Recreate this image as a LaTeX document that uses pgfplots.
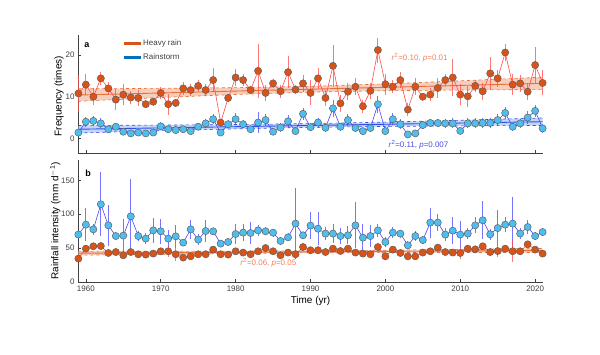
\documentclass[border=0pt]{standalone}
\usepackage{pgfplots}
\usepackage{pgfplotstable}
\pgfplotsset{compat=1.18}
\usepackage{fontspec}
\setmainfont{Liberation Sans}

\definecolor{hr}{HTML}{D95319}
\definecolor{rs}{HTML}{0072BD}
\definecolor{rsl}{HTML}{4DBEEE}
\definecolor{hrline}{HTML}{FF4B4B}
\definecolor{rsline}{HTML}{4747FF}
\definecolor{hrreg}{HTML}{E8703A}
\definecolor{hrband}{HTML}{F4B8A0}
\definecolor{rsreg}{HTML}{2E4FE6}
\definecolor{rsband}{HTML}{A9C2F7}
\definecolor{axgray}{HTML}{404040}
\definecolor{hrtext}{HTML}{EE8060}
\definecolor{rstext}{HTML}{4B4BE6}
\definecolor{mkedge}{HTML}{5A5A5A}

\pgfplotstableread{
year hr hre rs rse
1959 10.8 4.4 1.4 0.6
1960 12.9 2.5 4.0 1.2
1961 10.0 2.0 4.2 1.2
1962 14.4 1.5 3.6 1.2
1963 12.0 1.5 2.2 0.8
1964 9.3 2.5 2.8 0.8
1965 10.5 2.5 1.6 0.6
1966 9.8 1.5 1.2 0.5
1967 9.7 2.0 1.4 0.5
1968 8.2 1.0 1.2 0.5
1969 8.8 1.0 1.4 0.5
1970 10.9 1.5 2.9 1.0
1971 8.2 2.5 2.2 0.7
1972 8.5 1.0 2.0 0.6
1973 12.0 1.5 2.2 0.7
1974 11.6 1.5 1.75 0.6
1975 12.6 1.5 2.8 0.8
1976 11.6 1.5 3.6 1.0
1977 14.0 2.8 4.6 1.2
1978 3.8 0.5 1.4 0.6
1979 9.7 1.0 3.4 1.0
1980 14.6 2.0 4.6 1.5
1981 14.0 1.5 3.4 1.0
1982 11.6 1.0 2.2 0.8
1983 16.2 6.5 3.8 2.5
1984 10.9 2.0 4.4 1.5
1985 13.2 1.0 1.6 0.6
1986 11.3 1.5 2.6 1.0
1987 15.9 3.8 4.1 1.5
1988 11.7 1.0 1.75 0.7
1989 13.2 2.0 5.9 1.5
1990 10.9 3.0 2.7 1.0
1991 14.4 2.5 3.8 1.2
1992 9.7 2.0 2.55 1.0
1993 17.4 5.0 7.2 2.0
1994 8.4 2.0 2.8 1.0
1995 11.2 2.0 4.4 1.5
1996 12.4 2.0 2.5 1.0
1997 7.7 1.5 1.75 0.7
1998 11.4 2.0 2.5 1.0
1999 21.2 3.0 8.2 2.0
2000 13.0 2.5 1.75 0.8
2001 12.4 1.5 4.6 1.5
2002 14.0 2.0 3.4 1.2
2003 6.9 1.5 0.95 0.5
2004 12.4 2.0 1.2 0.5
2005 10.0 1.0 3.2 1.0
2006 10.5 1.5 3.7 1.0
2007 12.1 2.5 3.7 1.0
2008 14.0 1.5 3.6 1.0
2009 14.6 4.5 3.6 1.2
2010 10.5 2.5 1.8 0.8
2011 10.1 2.5 3.6 1.2
2012 12.6 1.5 3.6 1.2
2013 11.3 2.0 3.7 1.2
2014 15.6 4.0 3.7 1.2
2015 14.4 2.0 4.4 1.5
2016 20.6 2.0 6.1 1.5
2017 12.9 2.5 2.8 1.0
2018 13.2 2.0 3.6 1.0
2019 11.2 2.0 5.0 1.5
2020 17.6 4.4 6.6 1.5
2021 13.3 3.0 2.4 1.0
}\freqtable

\pgfplotstableread{
year ri rie hi hie
1959 70.0 5 34.5 5
1960 84.6 24 49.2 4
1961 77.7 8 52.7 4
1962 114.6 47 53.1 4
1963 83.6 30 42.8 3
1964 67.8 5 44.2 3
1965 68.5 25 39.4 4
1966 96.9 55 44.2 3
1967 67.8 8 40.9 3
1968 64.0 8 40.4 3
1969 76.2 18 41.9 3
1970 74.8 18 45.3 4
1971 64.0 12 45.3 8
1972 67.4 17 40.9 10
1973 58.1 5 36.0 3
1974 77.7 14 37.9 3
1975 62.5 8 40.9 3
1976 75.2 16 40.9 3
1977 74.8 5 47.8 4
1978 56.6 5 40.9 3
1979 59.0 5 40.4 3
1980 70.8 15 45.3 4
1981 72.8 13 43.4 3
1982 72.3 16 40.9 3
1983 76.2 8 45.3 4
1984 74.8 6 50.1 5
1985 72.8 6 45.3 3
1986 60.5 5 39.4 3
1987 65.9 6 43.4 3
1988 86.2 52 40.9 3
1989 68.9 5 51.6 5
1990 83.2 20 46.8 4
1991 78.7 24 46.8 6
1992 71.4 10 44.2 3
1993 71.4 14 49.2 4
1994 67.8 12 45.7 3
1995 68.9 13 49.2 4
1996 83.6 34 43.4 3
1997 65.4 20 41.9 3
1998 67.8 16 40.9 3
1999 76.2 10 51.6 4
2000 59.0 8 37.9 3
2001 72.8 8 47.8 4
2002 71.4 6 42.8 3
2003 54.1 6 37.9 3
2004 67.8 8 37.9 3
2005 61.9 6 43.4 3
2006 87.6 22 45.3 3
2007 87.6 12 50.7 5
2008 69.9 10 44.2 3
2009 75.7 20 43.4 3
2010 69.9 20 42.8 9
2011 71.4 8 49.2 5
2012 83.6 12 48.2 4
2013 91.0 28 52.7 5
2014 70.4 8 44.2 3
2015 79.6 26 45.7 9
2016 84.6 11 49.2 4
2017 86.1 39 45.3 16
2018 71.4 8 45.3 3
2019 81.1 10 55.6 4
2020 67.8 6 47.8 4
2021 73.7 6 41.9 3
}\inttable

\pgfplotsset{
  panel/.style={
    scale only axis, width=465bp,
    xmin=1958.95, xmax=2021.05,
    axis x line*=bottom, axis y line*=left,
    axis line style={axgray, line width=0.7pt, -},
    tick align=inside, major tick length=3bp,
    tick style={axgray, line width=0.6pt},
    xtick={1960,1970,...,2020},
    ticklabel style={font=\fontsize{8}{9}\selectfont, text=axgray},
    /pgf/number format/assume math mode=true,
    /pgf/number format/1000 sep={},
    label style={font=\fontsize{8}{9}\selectfont, text=axgray},
    clip=false,
  },
  hrmark/.style={mark=*, mark size=3.6bp, mark options={fill=hr, draw=mkedge, line width=0.45pt, solid}},
  rsmark/.style={mark=*, mark size=3.6bp, mark options={fill=rsl, draw=mkedge, line width=0.45pt, solid}},
}

\begin{document}
\begin{tikzpicture}
\useasboundingbox (0,0) rectangle (600bp,355bp);

% ---------- Panel a ----------
\begin{axis}[panel, at={(78bp,202bp)}, anchor=south west, height=118bp,
  ymin=-3.5, ymax=24.8, ytick={0,10,20}, xticklabels={},
  ylabel={Frequency (times)},
  every axis y label/.style={at={(axis description cs:-0.041,0.483)}, rotate=90, anchor=center},
  legend style={at={(rel axis cs:0.095,0.972)}, anchor=north west, draw=none, fill=none,
    font=\fontsize{8}{9}\selectfont, inner sep=0pt, row sep=4.5bp,
    nodes={inner sep=1.2bp, text=axgray}},
  legend cell align=left,
]
\addlegendimage{hr, line width=2.6bp}
\addlegendentry{Heavy rain}
\addlegendimage{rs, line width=2.6bp}
\addlegendentry{Rainstorm}
% bands
\addplot[forget plot, draw=none, fill=rsband, fill opacity=0.7] coordinates {
(1959,3.1) (1970,3.19) (1980,3.33) (1990,3.55) (2000,3.91) (2010,4.35) (2021,4.9)
(2021,3.1) (2010,3.01) (2000,2.87) (1990,2.65) (1980,2.29) (1970,1.85) (1959,1.3)} -- cycle;
\addplot[forget plot, draw=none, fill=hrband, fill opacity=0.7] coordinates {
(1959,11.9) (1970,12.0) (1980,12.17) (1990,12.5) (2000,13.07) (2010,13.8) (2021,14.7)
(2021,11.7) (2010,11.6) (2000,11.43) (1990,11.1) (1980,10.53) (1970,9.8) (1959,8.9)} -- cycle;
\addplot[forget plot, rsreg, dashed, line width=0.6pt] coordinates {(1959,3.1) (1970,3.19) (1980,3.33) (1990,3.55) (2000,3.91) (2010,4.35) (2021,4.9)};
\addplot[forget plot, rsreg, dashed, line width=0.6pt] coordinates {(1959,1.3) (1970,1.85) (1980,2.29) (1990,2.65) (2000,2.87) (2010,3.01) (2021,3.1)};
\addplot[forget plot, hrreg, dashed, line width=0.6pt] coordinates {(1959,11.9) (1970,12.0) (1980,12.17) (1990,12.5) (2000,13.07) (2010,13.8) (2021,14.7)};
\addplot[forget plot, hrreg, dashed, line width=0.6pt] coordinates {(1959,8.9) (1970,9.8) (1980,10.53) (1990,11.1) (2000,11.43) (2010,11.6) (2021,11.7)};
\addplot[forget plot, rsreg, line width=0.9pt] coordinates {(1959,2.2) (2021,4.0)};
\addplot[forget plot, hrreg, line width=0.9pt] coordinates {(1959,10.4) (2021,13.2)};
% error bars
\addplot[forget plot, draw=none, mark=none,
  error bars/.cd, y dir=both, y explicit, error mark=none,
  error bar style={draw=hrline, draw opacity=0.75, line width=0.9bp}]
  table[x=year, y=hr, y error=hre] {\freqtable};
\addplot[forget plot, draw=none, mark=none,
  error bars/.cd, y dir=both, y explicit, error mark=none,
  error bar style={draw=rsline, draw opacity=0.75, line width=0.9bp}]
  table[x=year, y=rs, y error=rse] {\freqtable};
% series
\addplot[forget plot, hrline, line width=0.6pt, hrmark] table[x=year, y=hr] {\freqtable};
\addplot[forget plot, rsline, line width=0.6pt, rsmark] table[x=year, y=rs] {\freqtable};
% annotations
\node[anchor=center, font=\bfseries\fontsize{9}{10}\selectfont, text=black] at (rel axis cs:0.019,0.911) {a};
\node[anchor=west, text=hrtext, font=\fontsize{8}{9}\selectfont, inner sep=0pt] at (axis cs:2000.8,19.3) {\textit{r}\textsuperscript{2}=0.10, \textit{p}=0.01};
\node[anchor=west, text=rstext, font=\fontsize{8}{9}\selectfont, inner sep=0pt] at (axis cs:2000.4,-1.5) {\textit{r}\textsuperscript{2}=0.11, \textit{p}=0.007};
\end{axis}

% ---------- Panel b ----------
\begin{axis}[panel, at={(78bp,73bp)}, anchor=south west, height=122bp,
  ymin=0, ymax=180, ytick={0,50,100,150},
  ylabel={Rainfall intensity (mm d\textsuperscript{$-$1})},
  every axis y label/.style={at={(axis description cs:-0.049,0.5)}, rotate=90, anchor=center},
  xlabel={Time (yr)},
  every axis x label/.style={at={(axis description cs:0.5,-0.155)}, anchor=center},
]
\addplot[draw=none, fill=hrband, fill opacity=0.7] coordinates {
(1959,45.5) (1970,45.45) (1980,45.59) (1990,46.0) (2000,46.87) (2010,48.05) (2021,49.5)
(2021,43.5) (2010,43.55) (2000,43.43) (1990,43.0) (1980,42.15) (1970,40.95) (1959,39.5)} -- cycle;
\addplot[hrreg, dashed, line width=0.6pt] coordinates {(1959,45.5) (1970,45.45) (1980,45.59) (1990,46.0) (2000,46.87) (2010,48.05) (2021,49.5)};
\addplot[hrreg, dashed, line width=0.6pt] coordinates {(1959,39.5) (1970,40.95) (1980,42.15) (1990,43.0) (2000,43.43) (2010,43.55) (2021,43.5)};
\addplot[hrreg, line width=0.9pt] coordinates {(1959,42.5) (2021,46.5)};
\addplot[draw=none, mark=none,
  error bars/.cd, y dir=both, y explicit, error mark=none,
  error bar style={draw=rsline, draw opacity=0.75, line width=0.9bp}]
  table[x=year, y=ri, y error=rie] {\inttable};
\addplot[draw=none, mark=none,
  error bars/.cd, y dir=both, y explicit, error mark=none,
  error bar style={draw=hrline, draw opacity=0.75, line width=0.9bp}]
  table[x=year, y=hi, y error=hie] {\inttable};
\addplot[rsline, line width=0.6pt, rsmark] table[x=year, y=ri] {\inttable};
\addplot[hrline, line width=0.6pt, hrmark] table[x=year, y=hi] {\inttable};
\node[anchor=center, font=\bfseries\fontsize{9}{10}\selectfont, text=black] at (rel axis cs:0.0215,0.893) {b};
\node[anchor=west, text=hrtext, font=\fontsize{8}{9}\selectfont, inner sep=0pt] at (axis cs:1980.6,28.5) {\textit{r}\textsuperscript{2}=0.06, \textit{p}=0.05};
\end{axis}
\end{tikzpicture}
\end{document}
